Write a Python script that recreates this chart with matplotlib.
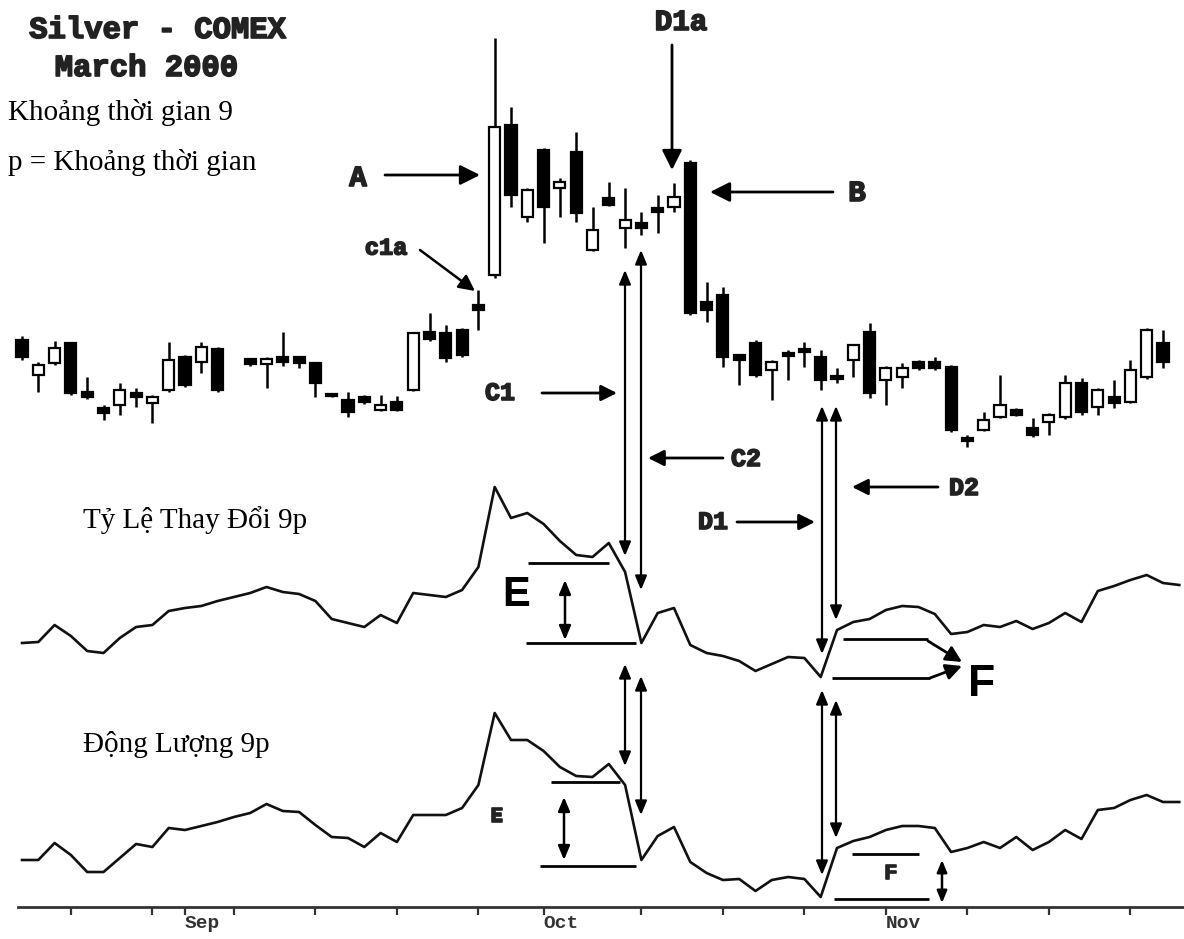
import numpy as np
import matplotlib.pyplot as plt
import matplotlib.patheffects as pe

# Silver - COMEX March 2000, daily bars (index 13 is a holiday gap)
opens = [5.196, 5.126, 5.150, 5.190, 5.092, 5.060, 5.066, 5.090, 5.070, 5.096,
         5.162, 5.152, 5.178, np.nan, 5.158, 5.148, 5.162, 5.162, 5.150, 5.088,
         5.076, 5.082, 5.056, 5.072, 5.096, 5.212, 5.210, 5.216, 5.266, 5.326,
         5.626, 5.442, 5.576, 5.500, 5.572, 5.376, 5.480, 5.420, 5.430, 5.460,
         5.462, 5.550, 5.272, 5.286, 5.166, 5.190, 5.136, 5.170, 5.178, 5.162,
         5.124, 5.156, 5.212, 5.116, 5.122, 5.152, 5.152, 5.142, 5.000, 5.016,
         5.042, 5.056, 5.020, 5.032, 5.042, 5.110, 5.062, 5.082, 5.072, 5.122,
         5.190]
highs = [5.204, 5.152, 5.194, 5.192, 5.122, 5.066, 5.110, 5.100, 5.086, 5.192,
         5.166, 5.192, 5.182, np.nan, 5.160, 5.162, 5.212, 5.164, 5.152, 5.090,
         5.092, 5.086, 5.086, 5.084, 5.212, 5.250, 5.226, 5.220, 5.296, 5.800,
         5.662, 5.500, 5.580, 5.520, 5.612, 5.462, 5.512, 5.500, 5.452, 5.486,
         5.510, 5.556, 5.312, 5.302, 5.168, 5.196, 5.156, 5.176, 5.192, 5.176,
         5.140, 5.188, 5.230, 5.144, 5.150, 5.156, 5.162, 5.146, 5.006, 5.052,
         5.126, 5.060, 5.040, 5.050, 5.126, 5.120, 5.100, 5.116, 5.156, 5.220,
         5.216]
lows = [5.156, 5.092, 5.146, 5.086, 5.078, 5.036, 5.046, 5.062, 5.030, 5.092,
        5.102, 5.130, 5.092, np.nan, 5.144, 5.100, 5.144, 5.140, 5.082, 5.082,
        5.042, 5.068, 5.054, 5.054, 5.094, 5.194, 5.152, 5.162, 5.216, 5.320,
        5.462, 5.432, 5.390, 5.442, 5.432, 5.374, 5.464, 5.380, 5.406, 5.410,
        5.452, 5.246, 5.232, 5.142, 5.106, 5.122, 5.076, 5.116, 5.142, 5.096,
        5.110, 5.122, 5.080, 5.066, 5.100, 5.136, 5.136, 5.012, 4.982, 5.014,
        5.040, 5.044, 5.002, 5.006, 5.038, 5.046, 5.046, 5.060, 5.070, 5.118,
        5.140]
closes = [5.162, 5.146, 5.180, 5.090, 5.082, 5.050, 5.096, 5.082, 5.082, 5.156,
          5.106, 5.182, 5.096, np.nan, 5.148, 5.158, 5.152, 5.150, 5.110, 5.084,
          5.052, 5.072, 5.066, 5.056, 5.210, 5.198, 5.160, 5.166, 5.256, 5.622,
          5.486, 5.496, 5.462, 5.512, 5.450, 5.416, 5.466, 5.436, 5.420, 5.452,
          5.482, 5.250, 5.256, 5.162, 5.156, 5.126, 5.152, 5.164, 5.172, 5.116,
          5.118, 5.186, 5.090, 5.140, 5.140, 5.140, 5.140, 5.016, 4.994, 5.036,
          5.066, 5.046, 5.006, 5.046, 5.110, 5.052, 5.096, 5.070, 5.136, 5.216,
          5.152]

# 9 period rate of change (%) and 9 period momentum ($)
roc9 = [-1.15, -1.10, -0.25, -0.80, -1.55, -1.65, -0.90, -0.35, -0.25, 0.45,
        0.60, 0.70, 0.95, 1.15, 1.35, 1.65, 1.40, 1.30, 0.95, 0.05,
        -0.15, -0.35, 0.25, -0.15, 1.35, 1.25, 1.15, 1.50, 2.65, 6.65,
        5.10, 5.35, 4.80, 3.95, 3.25, 3.15, 3.85, 2.40, -1.15, 0.35,
        0.60, -1.25, -1.65, -1.80, -2.05, -2.55, -2.20, -1.85, -1.90, -2.85,
        -0.50, -0.10, 0.05, 0.50, 0.70, 0.65, 0.30, -0.70, -0.60, -0.25,
        -0.35, -0.05, -0.45, -0.15, 0.35, -0.10, 1.45, 1.70, 2.00, 2.25,
        1.85, 1.75]
mom9 = [-0.040, -0.040, -0.006, -0.030, -0.064, -0.064, -0.036, -0.008, -0.014, 0.024,
        0.020, 0.028, 0.036, 0.046, 0.054, 0.072, 0.058, 0.056, 0.030, 0.006,
        0.004, -0.014, 0.014, -0.004, 0.050, 0.050, 0.050, 0.064, 0.110, 0.254,
        0.200, 0.200, 0.178, 0.146, 0.128, 0.126, 0.152, 0.110, -0.040, 0.008,
        0.026, -0.044, -0.066, -0.080, -0.078, -0.102, -0.080, -0.074, -0.078, -0.114,
        -0.016, -0.002, 0.006, 0.020, 0.028, 0.028, 0.024, -0.024, -0.016, -0.004,
        -0.016, 0.006, -0.020, -0.004, 0.020, 0.002, 0.060, 0.064, 0.080, 0.090,
        0.076, 0.076]

week_ticks = [3, 8, 13, 18, 23, 28, 38, 43, 48, 58, 63, 68]
month_ticks = [10, 32, 53]
month_labels = ['Sep', 'Oct', 'Nov']

W, H = 1184, 939
fig = plt.figure(figsize=(W / 100, H / 100), dpi=100)
fig.patch.set_facecolor('white')
x_lo, x_hi = -22 / 16.3, (W - 22) / 16.3


def panel(top, bottom):
    ax = fig.add_axes([0, 1 - bottom / H, 1, (bottom - top) / H])
    ax.patch.set_alpha(0)
    ax.set_xlim(x_lo, x_hi)
    return ax


ax_p = panel(0, 470)
ax_r = panel(470, 720)
ax_m = panel(720, 907)

# candlesticks
o = np.array(opens)
h = np.array(highs)
l = np.array(lows)
c = np.array(closes)
x = np.arange(len(o))
ok = ~np.isnan(o)
ax_p.vlines(x[ok], l[ok], h[ok], color='black', lw=1.8, zorder=2)
body_col = np.where(c[ok] >= o[ok], 'white', 'black')
ax_p.bar(x[ok], np.abs(c[ok] - o[ok]), bottom=np.minimum(o[ok], c[ok]), width=0.68,
         color=body_col, edgecolor='black', lw=1.6, zorder=3)
ax_p.set_ylim(4.936, 5.876)
ax_p.axis('off')

# indicators
ax_r.plot(np.arange(len(roc9)), roc9, color='#111111', lw=1.9, clip_on=False)
ax_r.set_ylim(-5.0, 7.5)
ax_r.axis('off')

ax_m.plot(np.arange(len(mom9)), mom9, color='#111111', lw=1.9, clip_on=False)
ax_m.set_ylim(-0.134, 0.240)
for s in ['top', 'left', 'right']:
    ax_m.spines[s].set_visible(False)
ax_m.spines['bottom'].set_linewidth(2.0)
ax_m.spines['bottom'].set_color('#333333')
ax_m.spines['bottom'].set_bounds(-0.25, x_hi)
ax_m.set_yticks([])
ax_m.set_xticks(month_ticks)
ax_m.set_xticklabels(month_labels, ha='left', family='Liberation Mono',
                     weight='bold', fontsize=14, color='#333333')
ax_m.set_xticks(week_ticks, minor=True)
ax_m.tick_params(axis='x', which='both', direction='out', length=6, width=1.6,
                 color='#333333', pad=0)

# annotation layer in pixel coordinates
ax_o = fig.add_axes([0, 0, 1, 1])
ax_o.set_xlim(0, W)
ax_o.set_ylim(H, 0)
ax_o.axis('off')
ax_o.patch.set_alpha(0)

thick = [pe.withStroke(linewidth=1.2, foreground='#222222')]
mono = dict(family='Liberation Mono', weight='bold', color='#222222',
            ha='center', va='center', path_effects=thick)
serif = dict(family='Liberation Serif', color='black', va='center', fontsize=21)
sans = dict(family='Liberation Sans', weight='bold', color='black',
            ha='center', va='center')


def arrow(x0, y0, x1, y1, style='-|>,head_length=0.6,head_width=0.3', ms=20, lw=2.0):
    ax_o.annotate('', xy=(x1, y1), xytext=(x0, y0),
                  arrowprops=dict(arrowstyle=style, color='black', lw=lw,
                                  mutation_scale=ms, shrinkA=0, shrinkB=0))


def hline(x0, x1, y, lw=2.0):
    ax_o.plot([x0, x1], [y, y], color='black', lw=lw, solid_capstyle='butt')


ax_o.text(157, 30, 'Silver - COMEX', fontsize=22, **mono)
ax_o.text(146, 68, 'March 2000', fontsize=22, **mono)
ax_o.text(8, 113, 'Khoảng thời gian 9', ha='left', **serif)
ax_o.text(8, 162, 'p = Khoảng thời gian', ha='left', **serif)
ax_o.text(83, 520, 'Tỷ Lệ Thay Đổi 9p', ha='left', **serif)
ax_o.text(83, 745, 'Động Lượng 9p', ha='left', **serif)

# A, B, D1a, c1a
ax_o.text(358, 178, 'A', fontsize=21, **mono)
arrow(385, 175, 480, 175)
ax_o.text(857, 193, 'B', fontsize=21, **mono)
arrow(833, 192, 710, 192)
ax_o.text(681, 22, 'D1a', fontsize=21, **mono)
arrow(672, 45, 672, 170)
ax_o.text(386, 248, 'c1a', fontsize=17, **mono)
arrow(420, 250, 475, 291, style='-|>,head_length=0.6,head_width=0.3', ms=16, lw=1.8)

# C1 / C2 / D1 / D2 labels
ax_o.text(500, 393, 'C1', fontsize=18, **mono)
arrow(542, 393, 617, 393, ms=16)
ax_o.text(746, 459, 'C2', fontsize=18, **mono)
arrow(723, 458, 648, 458, ms=16)
ax_o.text(713, 522, 'D1', fontsize=18, **mono)
arrow(737, 522, 815, 522, ms=16)
ax_o.text(964, 488, 'D2', fontsize=18, **mono)
arrow(938, 487, 852, 487, ms=16)

# vertical divergence arrows
dbl = '<|-|>,head_length=0.6,head_width=0.25'
for xv, y0, y1 in [(625, 270, 556), (641, 250, 590), (625, 664, 766), (641, 676, 815),
                   (822, 406, 654), (836, 406, 620), (822, 690, 875), (836, 700, 838)]:
    arrow(xv, y0, xv, y1, style=dbl, ms=14, lw=1.6)

# E (rate of change)
hline(528, 609, 563)
hline(526, 636, 643)
arrow(565, 580, 565, 640, style=dbl, ms=14, lw=1.8)
ax_o.text(516, 595, 'E', fontsize=30, **sans)

# F (rate of change)
hline(843, 928, 639)
hline(832, 930, 678)
arrow(928, 641, 962, 662, ms=16)
arrow(930, 678, 962, 666, ms=16)
ax_o.text(982, 684, 'F', fontsize=32, **sans)

# E (momentum)
hline(551, 620, 782)
hline(540, 636, 866)
arrow(564, 797, 564, 860, style=dbl, ms=14, lw=1.8)
ax_o.text(497, 816, 'E', fontsize=15, **mono)

# F (momentum)
hline(852, 919, 854)
hline(834, 929, 899)
arrow(942, 860, 942, 903, style=dbl, ms=12, lw=1.8)
ax_o.text(891, 873, 'F', fontsize=15, **mono)

fig.savefig('out.png', dpi=100, facecolor='white')
